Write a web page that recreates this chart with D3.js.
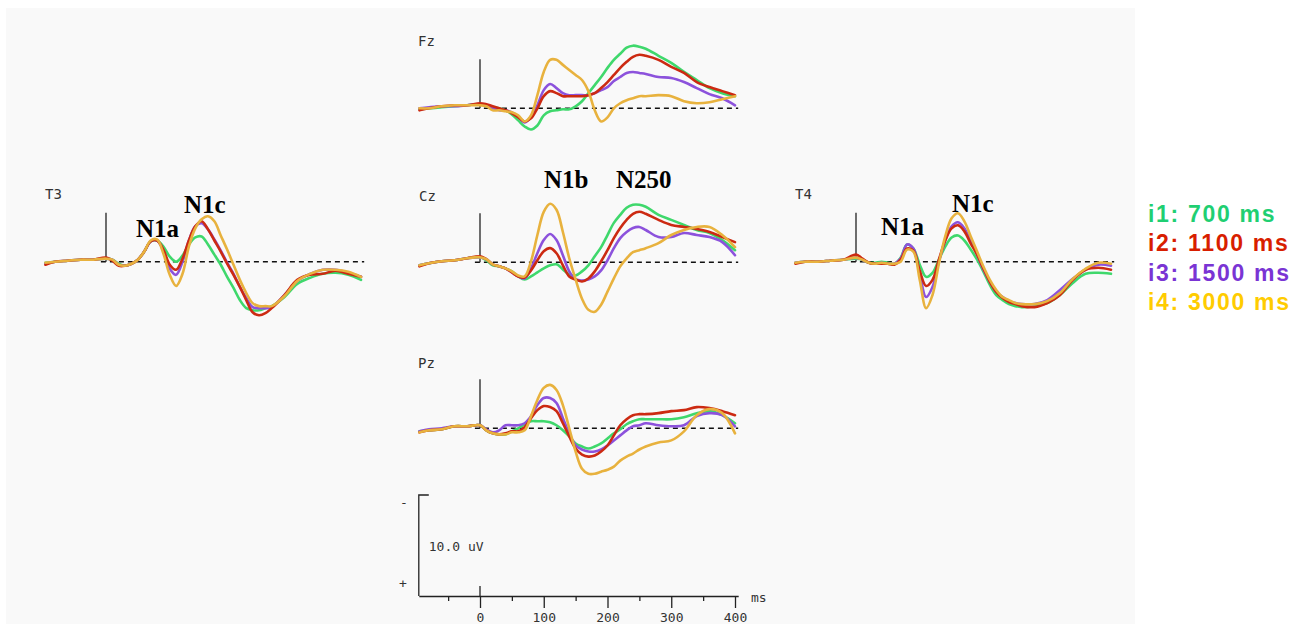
<!DOCTYPE html>
<html>
<head>
<meta charset="utf-8">
<script src="https://cdn.jsdelivr.net/npm/d3@7"></script>
<style>
  html, body { margin: 0; padding: 0; background: #ffffff; }
  svg { display: block; }
</style>
</head>
<body>
<div id="chart"></div>
<script>
// ---------------- DATA (µV, negative plotted upward) ----------------
const times = [-95,-80,-60,-40,-20,0,10,20,30,40,50,60,70,80,90,100,110,120,130,140,150,160,170,180,190,200,210,220,230,240,250,260,280,300,320,340,360,380,400];

const conditions = ["i1: 700 ms", "i2: 1100 ms", "i3: 1500 ms", "i4: 3000 ms"];
const channels = ["Fz", "T3", "Cz", "T4", "Pz"];
const timeTicks = [0, 100, 200, 300, 400];
const minorTicks = [-50, 50, 150, 250, 350];
const scaleLabel = "10.0 uV";
const scaleValue = 10;

// Fz
const fz_i1 = [0.1,0,-0.1,-0.2,-0.3,-0.4,-0.3,-0.1,0,0.2,0.6,1.2,1.8,2.1,1.7,0.7,0.3,0.2,0.1,0.1,-0.2,-0.7,-1.5,-2.3,-3.1,-4.0,-4.8,-5.4,-6.0,-6.2,-6.1,-5.9,-5.2,-4.5,-3.6,-2.8,-2.0,-1.5,-1.2];
const fz_i2 = [0.2,0,-0.2,-0.3,-0.3,-0.5,-0.4,-0.2,0,0.2,0.5,0.9,1.3,1.0,0,-1.2,-1.7,-1.5,-1.2,-1.2,-1.2,-1.2,-1.3,-1.5,-2.0,-2.6,-3.3,-4.0,-4.6,-5.1,-5.3,-5.2,-4.8,-4.1,-3.5,-2.6,-2.1,-1.7,-1.3];
const fz_i3 = [0,-0.1,-0.2,-0.2,-0.3,-0.4,-0.3,0,0.2,0.2,0.4,0.8,1.4,0.8,-0.3,-1.8,-2.4,-2.0,-1.5,-1.3,-1.3,-1.3,-1.3,-1.5,-1.8,-2.1,-2.7,-3.1,-3.5,-3.6,-3.5,-3.4,-3.1,-3.0,-2.6,-2.0,-1.4,-1.0,-0.3];
const fz_i4 = [0,0,-0.2,-0.3,-0.3,-0.3,-0.2,0.2,0.2,0.3,0.4,0.7,1.3,0.7,-1.3,-3.6,-4.8,-4.8,-4.3,-3.8,-3.3,-2.8,-1.7,0.2,1.3,0.9,0,-0.5,-0.8,-1.0,-1.2,-1.2,-1.3,-1.2,-0.7,-0.5,-0.6,-0.9,-1.2];

// Cz
const cz_i1 = [0.3,0.1,-0.1,-0.2,-0.4,-0.5,-0.2,0.3,0.4,0.6,0.9,1.4,1.7,1.4,1.0,0.6,0.3,0.2,0.7,1.2,1.3,0.9,0.3,-0.6,-1.5,-2.7,-3.9,-4.7,-5.4,-5.7,-5.7,-5.5,-4.7,-4.2,-3.7,-3.2,-2.9,-2.2,-1.2];
const cz_i2 = [0.4,0.1,-0.1,-0.2,-0.4,-0.6,-0.3,0.2,0.4,0.6,1.0,1.4,1.5,0.8,-0.2,-1.1,-1.4,-0.9,0.3,1.4,1.7,1.9,1.6,0.9,-0.1,-1.2,-2.4,-3.4,-4.2,-4.8,-5.0,-4.8,-4.2,-3.7,-3.5,-3.3,-3.0,-2.5,-2.0];
const cz_i3 = [0.3,0.1,-0.1,-0.2,-0.4,-0.5,-0.3,0.2,0.4,0.6,1.0,1.4,1.6,0.6,-0.9,-2.2,-2.8,-2.2,-0.7,0.9,1.7,1.8,1.7,1.4,0.8,-0.2,-1.4,-2.4,-3.0,-3.4,-3.5,-3.2,-2.5,-2.5,-2.9,-2.7,-2.5,-2.0,-0.7];
const cz_i4 = [0.3,0.1,-0.1,-0.2,-0.4,-0.5,-0.3,0.2,0.4,0.6,0.9,1.3,1.4,-0.1,-2.7,-5.0,-5.8,-5.2,-3.0,-0.4,1.7,3.6,4.7,4.9,4.2,2.9,1.6,0.4,-0.4,-1.0,-1.2,-1.4,-1.9,-2.7,-3.2,-3.5,-3.5,-2.7,-1.5];

// T3
const t3_i1 = [0.1,0.0,-0.1,-0.2,-0.2,-0.3,-0.2,0.2,0.4,0.2,-0.2,-1.0,-2.0,-2.1,-1.5,-0.5,0.0,-0.6,-1.7,-2.4,-2.5,-1.7,-0.7,0.3,1.5,2.6,3.8,4.6,4.8,4.8,4.6,4.4,3.5,2.2,1.6,1.2,1.1,1.3,1.8];
const t3_i2 = [0.3,0.0,-0.1,-0.2,-0.2,-0.4,-0.1,0.4,0.4,0.2,-0.2,-1.0,-2.0,-2.1,-1.2,0.3,0.8,-0.3,-2.1,-3.5,-4.0,-3.2,-2.1,-1.0,0.2,1.3,2.5,3.8,5.0,5.3,5.1,4.6,3.3,1.8,1.3,1.2,0.9,1.2,1.5];
const t3_i3 = [0.2,0.0,-0.1,-0.2,-0.2,-0.3,-0.2,0.3,0.4,0.2,-0.2,-1.0,-2.0,-2.1,-1.1,0.7,1.3,0.0,-2.1,-3.5,-3.8,-3.2,-2.2,-1.1,0.1,1.2,2.5,3.6,4.5,4.6,4.6,4.5,3.3,1.9,1.2,0.8,0.8,1.1,1.5];
const t3_i4 = [0.1,0.0,-0.1,-0.2,-0.2,-0.3,-0.2,0.3,0.4,0.2,-0.2,-1.0,-2.1,-2.2,-0.8,1.3,2.4,1.2,-1.5,-3.3,-4.2,-4.5,-4.0,-2.6,-1.2,0.3,1.8,3.1,4.1,4.4,4.4,4.4,3.4,1.9,1.2,0.8,0.8,1.0,1.5];

// T4
const t4_i1 = [0.1,0.0,0.0,-0.1,-0.2,-0.3,-0.2,0.1,0.1,0.0,0.1,0.2,-0.4,-1.7,-1.3,0.3,1.5,1.1,-0.2,-1.5,-2.4,-2.6,-2.1,-1.2,-0.2,1.0,2.3,3.3,3.8,4.2,4.4,4.5,4.4,4.1,3.3,2.1,1.2,1.1,1.2];
const t4_i2 = [0.2,0.0,0.0,-0.1,-0.2,-0.7,-0.3,0.1,0.2,0.2,0.2,0.3,-0.2,-1.3,-1.1,0.9,2.4,1.8,-0.2,-2.1,-3.3,-3.6,-3.0,-1.8,-0.7,0.7,2.0,3.0,3.6,4.0,4.2,4.4,4.5,4.1,3.3,1.8,0.8,0.6,0.8];
const t4_i3 = [0.1,0.0,0.0,-0.1,-0.2,-0.4,-0.2,0.1,0.2,0.1,0.2,0.2,-0.3,-1.7,-1.3,1.2,3.5,2.5,0.0,-2.1,-3.5,-3.9,-3.3,-2.0,-0.7,0.8,2.0,3.0,3.5,3.9,4.1,4.2,4.2,3.8,2.8,1.7,0.8,0.3,0.4];
const t4_i4 = [0.1,0.0,0.0,-0.1,-0.2,-0.4,-0.2,0.1,0.2,0.1,0.2,0.2,0.0,-1.2,-1.0,1.8,4.6,3.3,0.2,-2.5,-4.3,-4.8,-4.0,-2.5,-1.0,0.5,1.8,2.8,3.5,3.8,4.1,4.2,4.2,3.9,3.1,1.7,0.7,0.1,0.2];

// Pz
const pz_i1 = [0.3,0.2,0.1,-0.2,-0.2,-0.3,0.2,0.5,0.6,0.6,0.3,0.0,-0.4,-0.7,-0.7,-0.7,-0.6,-0.3,0.2,0.8,1.5,1.8,2.0,1.8,1.5,1.0,0.5,0.1,-0.4,-0.7,-0.9,-0.9,-0.9,-0.9,-1.1,-1.5,-1.7,-1.3,-0.5];
const pz_i2 = [0.4,0.2,0.1,-0.2,-0.2,-0.3,0.2,0.5,0.6,0.5,0.3,0.3,-0.1,-1.0,-1.8,-2.2,-2.1,-1.7,-0.5,0.8,2.0,2.6,2.8,2.7,2.3,1.7,0.7,-0.3,-0.9,-1.3,-1.4,-1.4,-1.5,-1.7,-1.8,-2.1,-2.0,-1.7,-1.3];
const pz_i3 = [0.3,0.1,0.0,-0.2,-0.2,-0.3,0.1,0.4,0.2,-0.3,-0.3,-0.3,-0.5,-1.2,-2.3,-3.0,-3.0,-2.5,-1.0,0.5,1.7,2.1,2.3,2.3,2.1,1.7,1.2,0.7,0.2,-0.2,-0.3,-0.5,-0.3,-0.2,-0.3,-1.2,-1.5,-1.3,-0.2];
const pz_i4 = [0.4,0.2,0.1,-0.2,-0.2,-0.3,0.2,0.5,0.6,0.6,0.4,0.4,0.2,-1.2,-2.8,-4.0,-4.3,-3.8,-2.3,0.0,2.3,4.0,4.5,4.5,4.3,4.1,3.8,3.2,2.8,2.5,2.1,1.8,1.4,1.2,0.3,-1.3,-1.9,-1.5,0.5];

// Component annotations
const annotations = [
  { text: "N1a", panel: "T3" }, { text: "N1c", panel: "T3" },
  { text: "N1b", panel: "Cz" }, { text: "N250", panel: "Cz" },
  { text: "N1a", panel: "T4" }, { text: "N1c", panel: "T4" }
];

// ---------------- STYLE / LAYOUT ----------------
const W = 1310, H = 624;
const traceColors = ["#3fd86c", "#cc2a12", "#8c52dc", "#e8b23e"];
const legendColors = ["#1fcf72", "#d81e00", "#7a34d4", "#ffcc00"];
const pxPer100ms = 63.75;
const pxPerUV = 10.1;

const layout = {
  Fz: { x0: 480, base: 108.3, label: [418, 46], data: [fz_i1, fz_i2, fz_i3, fz_i4] },
  T3: { x0: 106, base: 261.7, label: [45, 199], data: [t3_i1, t3_i2, t3_i3, t3_i4] },
  Cz: { x0: 480, base: 262.3, label: [419, 201], data: [cz_i1, cz_i2, cz_i3, cz_i4] },
  T4: { x0: 856, base: 261.7, label: [795, 199], data: [t4_i1, t4_i2, t4_i3, t4_i4] },
  Pz: { x0: 480, base: 428.3, label: [418, 368], data: [pz_i1, pz_i2, pz_i3, pz_i4] }
};
const annoPos = [[136, 237], [184, 213], [544, 188], [616, 188], [881, 235], [952, 212]];

const svg = d3.select("#chart").append("svg")
  .attr("width", W).attr("height", H)
  .style("font-family", "'DejaVu Sans Mono', monospace");

svg.append("rect").attr("x", 6).attr("y", 8).attr("width", 1129).attr("height", H - 8)
  .attr("fill", "#f9f9f9");

function makeX(x0) {
  return d3.scaleLinear().domain([0, 100]).range([x0, x0 + pxPer100ms]);
}
function makeY(base) {
  return d3.scaleLinear().domain([0, 10]).range([base, base + pxPerUV * 10]);
}

channels.forEach(ch => {
  const p = layout[ch];
  const x = makeX(p.x0), y = makeY(p.base);
  const g = svg.append("g");

  // dashed baseline
  g.append("line")
    .attr("x1", x(-8)).attr("x2", x(405))
    .attr("y1", y(0)).attr("y2", y(0))
    .attr("stroke", "#111").attr("stroke-width", 1.5)
    .attr("stroke-dasharray", "5,4");

  // stimulus onset marker
  g.append("line")
    .attr("x1", x(0)).attr("x2", x(0))
    .attr("y1", y(0)).attr("y2", y(-4.85))
    .attr("stroke", "#222").attr("stroke-width", 1.3);

  const line = d3.line()
    .x((d, i) => x(times[i]))
    .y(d => y(d))
    .curve(d3.curveCatmullRom.alpha(0.5));

  [0, 2, 1, 3].forEach(k => {
    g.append("path")
      .attr("d", line(p.data[k]))
      .attr("fill", "none")
      .attr("stroke", traceColors[k])
      .attr("stroke-width", 2.6)
      .attr("stroke-linejoin", "round")
      .attr("stroke-linecap", "round");
  });

  svg.append("text")
    .attr("x", p.label[0]).attr("y", p.label[1])
    .attr("font-size", 14).attr("fill", "#333")
    .text(ch);
});

// annotations
annotations.forEach((a, i) => {
  svg.append("text")
    .attr("x", annoPos[i][0]).attr("y", annoPos[i][1])
    .attr("font-family", "'Liberation Serif', 'Times New Roman', serif")
    .attr("font-weight", "bold").attr("font-size", 25)
    .attr("fill", "#000")
    .text(a.text);
});

// ---------------- scale bar + time axis ----------------
const xa = makeX(480);
const axisY = 596;
const yBar = d3.scaleLinear().domain([-scaleValue, 0]).range([axisY - pxPerUV * scaleValue, axisY]);
const barX = xa(-96);

svg.append("path")
  .attr("d", `M${barX + 10},${yBar(-scaleValue)}H${barX}V${yBar(0)}`)
  .attr("fill", "none").attr("stroke", "#222").attr("stroke-width", 1.3);

svg.append("text").attr("x", 400).attr("y", yBar(-scaleValue * 0.92) + 4)
  .attr("font-size", 13).attr("fill", "#333").text("-");
svg.append("text").attr("x", 399).attr("y", yBar(-scaleValue * 0.13) + 5)
  .attr("font-size", 13).attr("fill", "#333").text("+");
svg.append("text").attr("x", barX + 10).attr("y", yBar(-scaleValue / 2) + 5)
  .attr("font-size", 13).attr("fill", "#333").text(scaleLabel);

const axisScale = d3.scaleLinear().domain([-96, 405]).range([xa(-96), xa(405)]);
const axisG = svg.append("g").attr("transform", `translate(0,${axisY})`)
  .call(d3.axisBottom(axisScale).tickValues(timeTicks).tickSize(12).tickSizeOuter(0).tickPadding(5).tickFormat(d3.format("d")));
axisG.select(".domain").attr("stroke", "#222").attr("stroke-width", 1.3);
axisG.selectAll(".tick line").attr("stroke", "#222").attr("stroke-width", 1.3);
axisG.selectAll(".tick text").attr("font-family", "'DejaVu Sans Mono', monospace").attr("font-size", 13).attr("fill", "#333");

const minorG = svg.append("g").attr("transform", `translate(0,${axisY})`)
  .call(d3.axisBottom(axisScale).tickValues(minorTicks).tickSize(5).tickSizeOuter(0).tickFormat(""));
minorG.select(".domain").remove();
minorG.selectAll(".tick line").attr("stroke", "#222").attr("stroke-width", 1.3);

// zero tick extends above the axis
svg.append("line").attr("x1", xa(0)).attr("x2", xa(0))
  .attr("y1", axisY - 10).attr("y2", axisY)
  .attr("stroke", "#222").attr("stroke-width", 1.3);

svg.append("text").attr("x", xa(425)).attr("y", axisY + 6)
  .attr("font-size", 13).attr("fill", "#333").text("ms");

// ---------------- legend ----------------
conditions.forEach((c, i) => {
  svg.append("text")
    .attr("x", 1148).attr("y", 221.5 + i * 29.6)
    .attr("font-family", "'Liberation Sans', Arial, sans-serif")
    .attr("font-weight", "bold").attr("font-size", 23)
    .attr("letter-spacing", "1.7px")
    .attr("fill", legendColors[i])
    .text(c);
});
</script>
</body>
</html>
